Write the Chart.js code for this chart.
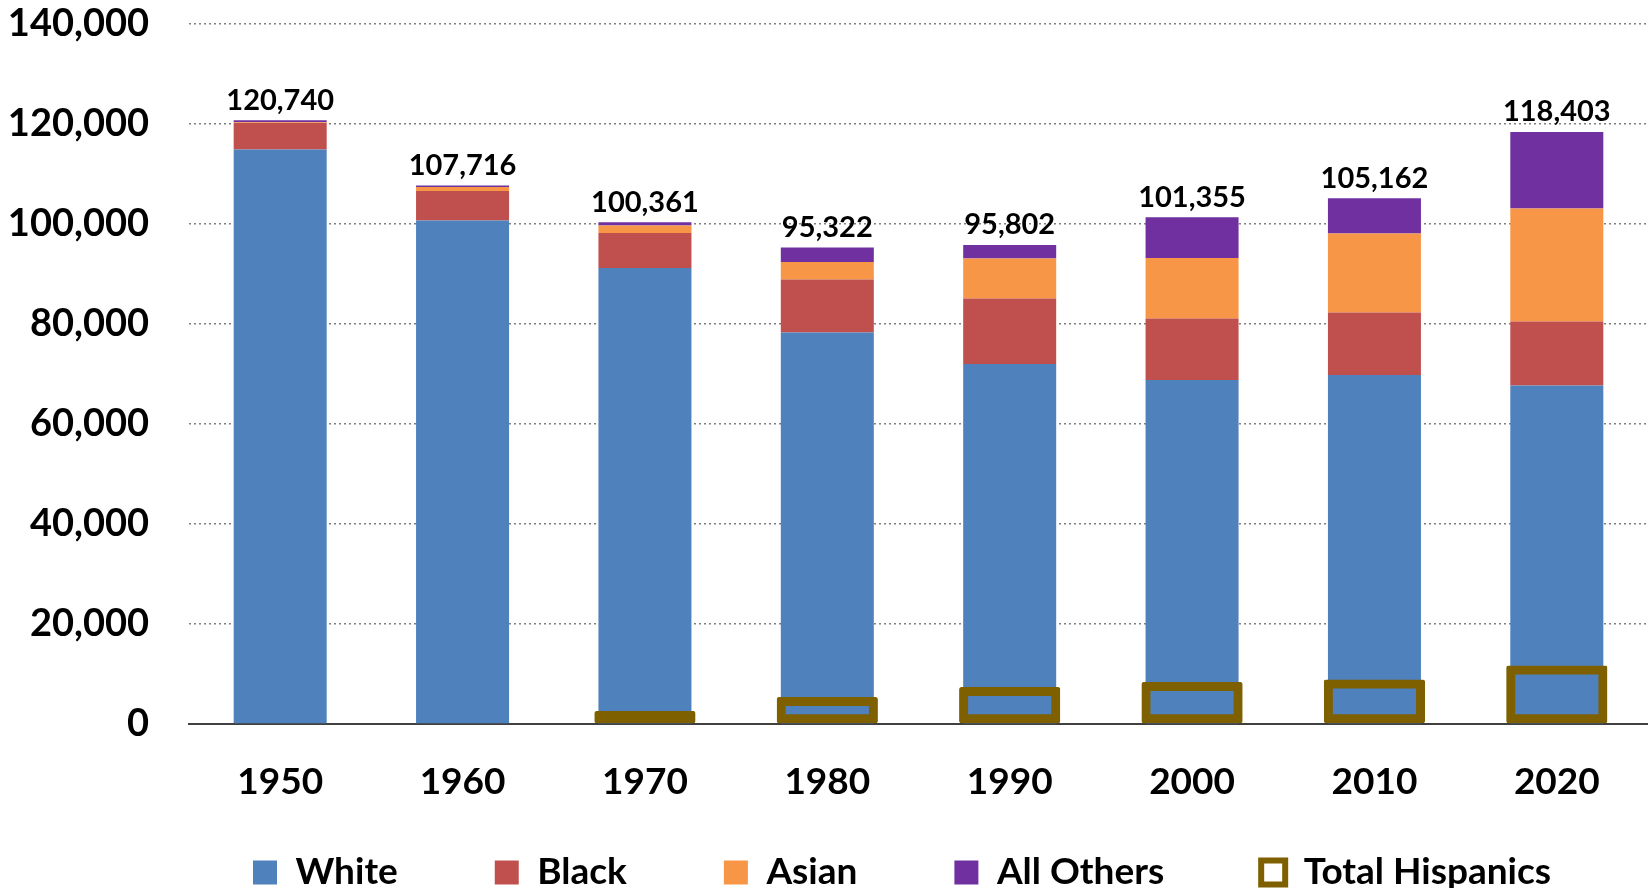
<!DOCTYPE html>
<html>
<head>
<meta charset="utf-8">
<script src="https://cdn.jsdelivr.net/npm/chart.js@4"></script>
<style>
  html, body { margin: 0; padding: 0; background: #fff; }
  #wrap { width: 1648px; height: 894px; }
</style>
</head>
<body>
<div id="wrap"><canvas id="gPob" width="1648" height="894"></canvas></div>
<script>
// values
var years = ["1950", "1960", "1970", "1980", "1990", "2000", "2010", "2020"];
var white = [114900, 100700, 91200, 78300, 72000, 68800, 69800, 67700];
var black = [5300, 5900, 7000, 10600, 13100, 12300, 12500, 12800];
var asian = [140, 800, 1500, 3500, 8000, 12100, 15800, 22600];
var others = [400, 316, 661, 2922, 2702, 8155, 7062, 15303];
var hispanics = [null, null, 2600, 5400, 7400, 8400, 8900, 11700];
var yTicks = [0, 20000, 40000, 60000, 80000, 100000, 120000, 140000];

var FONT = "Lato, 'Open Sans', sans-serif";
var LEGEND_PAD = 97;

// total label on top of each stacked bar
var totalsPlugin = {
  id: 'totals',
  afterDatasetsDraw: function(chart) {
    var ctx = chart.ctx;
    var topMeta = chart.getDatasetMeta(3);
    ctx.save();
    ctx.font = "bold 29px " + FONT;
    ctx.fillStyle = "#000";
    ctx.textAlign = "center";
    ctx.textBaseline = "middle";
    topMeta.data.forEach(function(bar, i) {
      var total = white[i] + black[i] + asian[i] + others[i];
      ctx.fillText(total.toLocaleString('en-US'), bar.x, bar.y - 20);
    });
    ctx.restore();
  }
};

// legend: wide gaps between items, one row, small strip of height
var legendFix = {
  id: 'legendFix',
  beforeLayout: function(chart) {
    var lg = chart.legend;
    if (lg && !lg._fitWrapped) {
      var fit = lg.fit;
      lg.fit = function() {
        var mw = this.maxWidth;
        this.maxWidth = 5000;
        fit.call(this);
        this.maxWidth = mw;
        this.width = mw;
        this.height = 84;
      };
      lg._fitWrapped = true;
    }
  },
  afterLayout: function(chart) {
    var lg = chart.legend;
    lg.left = 253 - LEGEND_PAD;
    lg.right = 3000;
    lg.top = 873 - 19 - LEGEND_PAD;
  }
};

function makeChart() {
  var ctx = document.getElementById("gPob").getContext('2d');
  return new Chart(ctx, {
    type: 'bar',
    data: {
      labels: years,
      datasets: [{
          label: "White",
          backgroundColor: "#4F81BD",
          data: white,
          stack: "race"
        }, {
          label: "Black",
          backgroundColor: "#C0504D",
          data: black,
          stack: "race"
        }, {
          label: "Asian",
          backgroundColor: "#F79646",
          data: asian,
          stack: "race"
        }, {
          label: "All Others",
          backgroundColor: "#7030A0",
          data: others,
          stack: "race"
        }, {
          label: "Total Hispanics",
          backgroundColor: "rgba(0,0,0,0)",
          borderColor: "#7F6000",
          borderWidth: 9,
          borderSkipped: false,
          borderRadius: 2,
          data: hispanics,
          stack: "hisp",
          xAxisID: "x2",
          barPercentage: 0.555,
          order: -1
        }
      ]
    },
    options: {
      responsive: false,
      animation: false,
      devicePixelRatio: 1,
      layout: { autoPadding: false, padding: { left: 10, top: 24, right: 0, bottom: 6 } },
      datasets: { bar: { barPercentage: 0.51, categoryPercentage: 1, grouped: false } },
      scales: {
        x: {
          stacked: true,
          grid: { display: false, drawTicks: false },
          border: { display: true, color: "#404040", width: 2 },
          ticks: { color: "#000", padding: 36, font: { family: FONT, size: 37, weight: 'bold' } },
          afterFit: function(axis) {
            axis.paddingLeft = 0;
            axis.paddingRight = 0;
            axis.height = 80;
          }
        },
        x2: {
          type: 'category',
          labels: years,
          display: false,
          offset: true,
          stacked: false,
          grid: { display: false }
        },
        y: {
          stacked: true,
          min: 0,
          max: 140000,
          afterBuildTicks: function(axis) {
            axis.ticks = yTicks.map(function(v) { return { value: v }; });
          },
          afterFit: function(axis) {
            axis.paddingTop = 0;
            axis.paddingBottom = 0;
            axis.width = 179;
          },
          grid: { color: "#808080", lineWidth: 1.5, drawTicks: false },
          border: { display: false, dash: [2, 3] },
          ticks: {
            color: "#000",
            padding: 40,
            font: { family: FONT, size: 38, weight: 'bold' },
            callback: function(v) { return v.toLocaleString('en-US'); }
          }
        }
      },
      plugins: {
        tooltip: { enabled: false },
        title: { display: false },
        legend: {
          display: true,
          position: 'bottom',
          align: 'start',
          labels: {
            color: "#000",
            boxWidth: 24,
            boxHeight: 24,
            padding: LEGEND_PAD,
            font: { family: FONT, size: 37, weight: 'bold' },
            sort: function(a, b) { return a.datasetIndex - b.datasetIndex; },
            generateLabels: function(chart) {
              var items = Chart.defaults.plugins.legend.labels.generateLabels(chart);
              items.forEach(function(it) {
                if (it.datasetIndex === 4) {
                  it.fillStyle = "#fff";
                  it.strokeStyle = "#7F6000";
                  it.lineWidth = 6;
                } else {
                  it.lineWidth = 0;
                }
              });
              return items;
            }
          }
        }
      }
    },
    plugins: [totalsPlugin, legendFix]
  });
}

if (document.fonts && document.fonts.load) {
  Promise.all([
    document.fonts.load("bold 38px Lato"),
    document.fonts.load("bold 29px Lato")
  ]).then(makeChart, makeChart);
} else {
  makeChart();
}
</script>
</body>
</html>
